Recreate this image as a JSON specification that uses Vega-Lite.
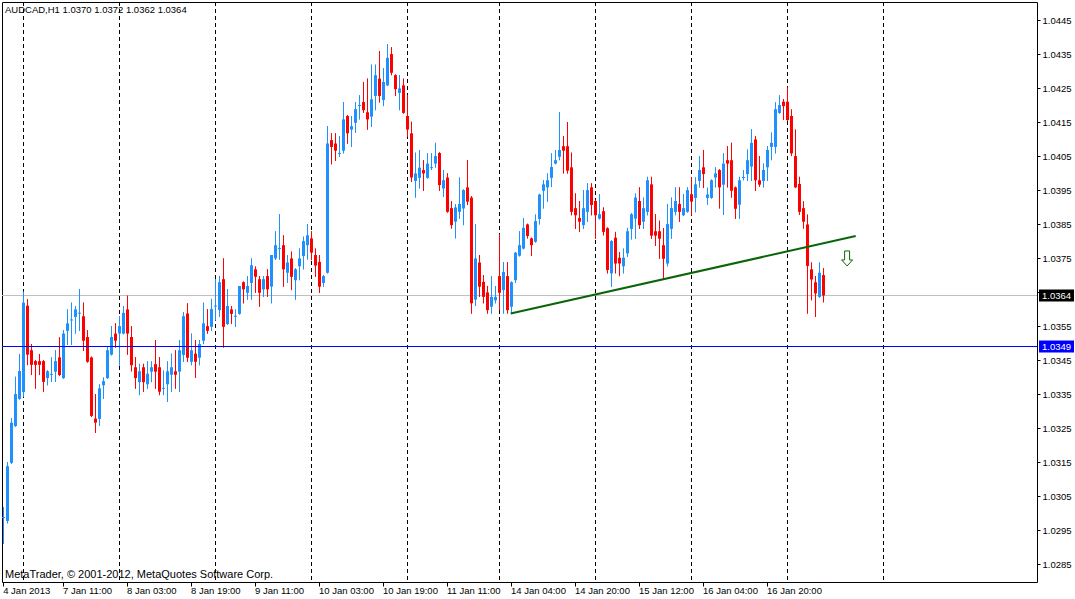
{
  "$schema": "https://vega.github.io/schema/vega-lite/v6.json",
  "width": 1035,
  "height": 580,
  "autosize": {"type": "none"},
  "padding": {"left": 2, "top": 2, "right": 38, "bottom": 17},
  "background": "white",
  "config": {
    "view": {"stroke": "black", "strokeWidth": 1},
    "font": "Liberation Sans",
    "axis": {"labelOverlap": false, "labelSeparation": 0, "labelBound": false, "labelFlush": false},
    "scale": {"continuousPadding": 0}
  },
  "datasets": {
    "candles": [
      {"i":0,"o":1.02987,"h":1.03017,"l":1.0291,"c":1.02987},
      {"i":1,"o":1.02977,"h":1.0315,"l":1.0297,"c":1.03138},
      {"i":2,"o":1.03148,"h":1.03279,"l":1.03145,"c":1.03266},
      {"i":3,"o":1.03256,"h":1.03401,"l":1.03254,"c":1.0335},
      {"i":4,"o":1.03336,"h":1.03468,"l":1.03334,"c":1.03418},
      {"i":5,"o":1.03356,"h":1.03651,"l":1.03342,"c":1.03619},
      {"i":6,"o":1.0361,"h":1.03629,"l":1.03435,"c":1.03466},
      {"i":7,"o":1.03479,"h":1.03497,"l":1.03406,"c":1.03436},
      {"i":8,"o":1.03447,"h":1.0345,"l":1.03366,"c":1.03436},
      {"i":9,"o":1.03447,"h":1.03468,"l":1.03406,"c":1.03436},
      {"i":10,"o":1.03447,"h":1.0345,"l":1.03356,"c":1.03386},
      {"i":11,"o":1.03397,"h":1.0342,"l":1.03376,"c":1.03417},
      {"i":12,"o":1.03408,"h":1.03458,"l":1.03386,"c":1.03408},
      {"i":13,"o":1.03416,"h":1.03479,"l":1.03386,"c":1.03447},
      {"i":14,"o":1.03458,"h":1.03517,"l":1.03404,"c":1.03406},
      {"i":15,"o":1.03397,"h":1.03538,"l":1.03395,"c":1.03528},
      {"i":16,"o":1.03536,"h":1.03599,"l":1.03495,"c":1.03558},
      {"i":17,"o":1.03568,"h":1.03619,"l":1.03495,"c":1.03568},
      {"i":18,"o":1.03577,"h":1.03609,"l":1.03528,"c":1.03599},
      {"i":19,"o":1.03588,"h":1.03659,"l":1.03536,"c":1.03588},
      {"i":20,"o":1.03579,"h":1.03619,"l":1.03477,"c":1.03507},
      {"i":21,"o":1.03518,"h":1.03538,"l":1.03443,"c":1.03445},
      {"i":22,"o":1.03458,"h":1.0346,"l":1.03283,"c":1.03286},
      {"i":23,"o":1.03278,"h":1.0335,"l":1.03236,"c":1.03266},
      {"i":24,"o":1.03277,"h":1.03379,"l":1.03257,"c":1.03367},
      {"i":25,"o":1.03376,"h":1.03399,"l":1.03336,"c":1.03388},
      {"i":26,"o":1.03397,"h":1.03489,"l":1.03395,"c":1.03479},
      {"i":27,"o":1.03466,"h":1.0355,"l":1.03464,"c":1.03518},
      {"i":28,"o":1.03528,"h":1.03558,"l":1.03487,"c":1.03507},
      {"i":29,"o":1.03528,"h":1.03579,"l":1.03434,"c":1.0355},
      {"i":30,"o":1.03528,"h":1.03609,"l":1.03526,"c":1.03589},
      {"i":31,"o":1.03599,"h":1.0364,"l":1.03466,"c":1.03528},
      {"i":32,"o":1.03518,"h":1.0355,"l":1.03417,"c":1.03435},
      {"i":33,"o":1.03429,"h":1.03459,"l":1.03366,"c":1.03397},
      {"i":34,"o":1.03385,"h":1.03439,"l":1.03347,"c":1.03417},
      {"i":35,"o":1.03429,"h":1.03439,"l":1.03357,"c":1.03385},
      {"i":36,"o":1.03379,"h":1.03446,"l":1.03366,"c":1.0341},
      {"i":37,"o":1.03416,"h":1.03446,"l":1.03385,"c":1.03429},
      {"i":38,"o":1.03438,"h":1.03509,"l":1.03366,"c":1.03416},
      {"i":39,"o":1.03429,"h":1.03459,"l":1.03347,"c":1.03357},
      {"i":40,"o":1.03367,"h":1.03419,"l":1.03347,"c":1.03367},
      {"i":41,"o":1.03379,"h":1.03446,"l":1.03327,"c":1.03417},
      {"i":42,"o":1.03407,"h":1.03469,"l":1.03357,"c":1.03429},
      {"i":43,"o":1.03417,"h":1.03479,"l":1.03366,"c":1.03407},
      {"i":44,"o":1.03416,"h":1.03509,"l":1.03357,"c":1.03479},
      {"i":45,"o":1.03465,"h":1.03591,"l":1.03445,"c":1.03579},
      {"i":46,"o":1.03587,"h":1.03617,"l":1.03445,"c":1.03457},
      {"i":47,"o":1.03445,"h":1.03528,"l":1.03435,"c":1.03479},
      {"i":48,"o":1.03469,"h":1.03509,"l":1.03398,"c":1.03445},
      {"i":49,"o":1.03457,"h":1.03509,"l":1.03435,"c":1.03497},
      {"i":50,"o":1.03507,"h":1.03619,"l":1.03497,"c":1.03558},
      {"i":51,"o":1.0355,"h":1.036,"l":1.03528,"c":1.03536},
      {"i":52,"o":1.03548,"h":1.0363,"l":1.03536,"c":1.036},
      {"i":53,"o":1.03609,"h":1.03688,"l":1.03567,"c":1.03609},
      {"i":54,"o":1.03597,"h":1.03697,"l":1.03577,"c":1.03679},
      {"i":55,"o":1.03688,"h":1.03749,"l":1.03487,"c":1.03548},
      {"i":56,"o":1.03556,"h":1.03659,"l":1.03554,"c":1.03609},
      {"i":57,"o":1.03599,"h":1.03609,"l":1.03556,"c":1.03586},
      {"i":58,"o":1.03579,"h":1.03599,"l":1.03548,"c":1.03579},
      {"i":59,"o":1.03586,"h":1.03668,"l":1.03584,"c":1.03668},
      {"i":60,"o":1.03679,"h":1.03681,"l":1.03617,"c":1.03658},
      {"i":61,"o":1.03648,"h":1.03697,"l":1.03628,"c":1.03668},
      {"i":62,"o":1.03677,"h":1.03749,"l":1.03628,"c":1.03729},
      {"i":63,"o":1.03717,"h":1.03725,"l":1.03648,"c":1.03695},
      {"i":64,"o":1.03688,"h":1.03697,"l":1.03607,"c":1.03648},
      {"i":65,"o":1.03658,"h":1.03697,"l":1.03636,"c":1.03688},
      {"i":66,"o":1.03697,"h":1.03717,"l":1.03636,"c":1.03658},
      {"i":67,"o":1.03666,"h":1.03759,"l":1.03617,"c":1.03759},
      {"i":68,"o":1.03749,"h":1.03829,"l":1.03745,"c":1.03788},
      {"i":69,"o":1.03778,"h":1.03879,"l":1.03746,"c":1.03778},
      {"i":70,"o":1.03788,"h":1.03817,"l":1.03666,"c":1.03717},
      {"i":71,"o":1.03707,"h":1.03759,"l":1.03677,"c":1.03737},
      {"i":72,"o":1.03749,"h":1.03769,"l":1.03656,"c":1.03695},
      {"i":73,"o":1.03685,"h":1.0372,"l":1.03628,"c":1.03717},
      {"i":74,"o":1.03726,"h":1.03778,"l":1.03685,"c":1.03749},
      {"i":75,"o":1.03756,"h":1.03813,"l":1.03717,"c":1.038},
      {"i":76,"o":1.03788,"h":1.0385,"l":1.03746,"c":1.03817},
      {"i":77,"o":1.03808,"h":1.03829,"l":1.03744,"c":1.03766},
      {"i":78,"o":1.03759,"h":1.03778,"l":1.03695,"c":1.03728},
      {"i":79,"o":1.03739,"h":1.03759,"l":1.03648,"c":1.03666},
      {"i":80,"o":1.03677,"h":1.037,"l":1.03666,"c":1.03697},
      {"i":81,"o":1.03707,"h":1.04138,"l":1.03705,"c":1.04087},
      {"i":82,"o":1.04097,"h":1.04117,"l":1.04026,"c":1.04077},
      {"i":83,"o":1.04087,"h":1.04117,"l":1.04036,"c":1.04066},
      {"i":84,"o":1.04058,"h":1.04109,"l":1.04048,"c":1.04058},
      {"i":85,"o":1.04066,"h":1.04209,"l":1.04058,"c":1.04158},
      {"i":86,"o":1.04168,"h":1.0417,"l":1.04087,"c":1.04117},
      {"i":87,"o":1.04128,"h":1.04168,"l":1.04077,"c":1.04138},
      {"i":88,"o":1.04148,"h":1.04209,"l":1.04118,"c":1.04188},
      {"i":89,"o":1.04199,"h":1.04229,"l":1.04158,"c":1.04199},
      {"i":90,"o":1.04209,"h":1.04268,"l":1.04177,"c":1.04185},
      {"i":91,"o":1.04179,"h":1.04278,"l":1.04128,"c":1.04158},
      {"i":92,"o":1.04166,"h":1.04319,"l":1.04136,"c":1.04217},
      {"i":93,"o":1.04227,"h":1.04319,"l":1.04185,"c":1.04288},
      {"i":94,"o":1.04278,"h":1.04359,"l":1.04208,"c":1.04227},
      {"i":95,"o":1.04215,"h":1.04309,"l":1.04197,"c":1.04268},
      {"i":96,"o":1.04258,"h":1.04379,"l":1.04256,"c":1.04339},
      {"i":97,"o":1.0435,"h":1.0437,"l":1.04288,"c":1.04295},
      {"i":98,"o":1.04288,"h":1.0429,"l":1.04227,"c":1.04247},
      {"i":99,"o":1.04236,"h":1.04288,"l":1.04185,"c":1.04249},
      {"i":100,"o":1.04258,"h":1.04278,"l":1.04175,"c":1.04177},
      {"i":101,"o":1.04168,"h":1.04229,"l":1.04107,"c":1.04128},
      {"i":102,"o":1.04117,"h":1.04151,"l":1.03974,"c":1.03987},
      {"i":103,"o":1.03977,"h":1.0406,"l":1.03928,"c":1.03999},
      {"i":104,"o":1.03986,"h":1.04068,"l":1.03955,"c":1.04016},
      {"i":105,"o":1.04009,"h":1.04038,"l":1.03948,"c":1.03999},
      {"i":106,"o":1.03986,"h":1.04058,"l":1.03984,"c":1.04028},
      {"i":107,"o":1.04016,"h":1.04058,"l":1.04009,"c":1.04016},
      {"i":108,"o":1.04028,"h":1.04089,"l":1.04016,"c":1.0405},
      {"i":109,"o":1.04059,"h":1.04061,"l":1.03948,"c":1.03965},
      {"i":110,"o":1.03955,"h":1.04009,"l":1.0393,"c":1.03979},
      {"i":111,"o":1.03987,"h":1.03999,"l":1.03884,"c":1.03886},
      {"i":112,"o":1.03897,"h":1.03917,"l":1.03837,"c":1.03847},
      {"i":113,"o":1.03857,"h":1.03909,"l":1.03808,"c":1.03899},
      {"i":114,"o":1.03886,"h":1.03987,"l":1.03866,"c":1.03909},
      {"i":115,"o":1.03896,"h":1.03952,"l":1.03847,"c":1.0395},
      {"i":116,"o":1.03958,"h":1.04038,"l":1.03906,"c":1.03916},
      {"i":117,"o":1.03928,"h":1.03932,"l":1.03587,"c":1.03617},
      {"i":118,"o":1.03628,"h":1.0385,"l":1.03609,"c":1.03749},
      {"i":119,"o":1.03737,"h":1.03759,"l":1.03636,"c":1.03666},
      {"i":120,"o":1.0368,"h":1.037,"l":1.03617,"c":1.03636},
      {"i":121,"o":1.03649,"h":1.03668,"l":1.03587,"c":1.03597},
      {"i":122,"o":1.03607,"h":1.03697,"l":1.03587,"c":1.03636},
      {"i":123,"o":1.03626,"h":1.03668,"l":1.03617,"c":1.03636},
      {"i":124,"o":1.03697,"h":1.0382,"l":1.03597,"c":1.03648},
      {"i":125,"o":1.03656,"h":1.03738,"l":1.03587,"c":1.03709},
      {"i":126,"o":1.03697,"h":1.03738,"l":1.03587,"c":1.03597},
      {"i":127,"o":1.03607,"h":1.03681,"l":1.03587,"c":1.03679},
      {"i":128,"o":1.03685,"h":1.03768,"l":1.03677,"c":1.03766},
      {"i":129,"o":1.03757,"h":1.03829,"l":1.03755,"c":1.03788},
      {"i":130,"o":1.03778,"h":1.03868,"l":1.03776,"c":1.03839},
      {"i":131,"o":1.03849,"h":1.03851,"l":1.03808,"c":1.03815},
      {"i":132,"o":1.03808,"h":1.0381,"l":1.03757,"c":1.03788},
      {"i":133,"o":1.03798,"h":1.03878,"l":1.03796,"c":1.03859},
      {"i":134,"o":1.03865,"h":1.03939,"l":1.03849,"c":1.03937},
      {"i":135,"o":1.03948,"h":1.03979,"l":1.03896,"c":1.03967},
      {"i":136,"o":1.03958,"h":1.03999,"l":1.03916,"c":1.03979},
      {"i":137,"o":1.03986,"h":1.04058,"l":1.03959,"c":1.04018},
      {"i":138,"o":1.04028,"h":1.04068,"l":1.04026,"c":1.04038},
      {"i":139,"o":1.04048,"h":1.04179,"l":1.04038,"c":1.04068},
      {"i":140,"o":1.04079,"h":1.04109,"l":1.03999,"c":1.04066},
      {"i":141,"o":1.04079,"h":1.0415,"l":1.03999,"c":1.04007},
      {"i":142,"o":1.04017,"h":1.0406,"l":1.03876,"c":1.03886},
      {"i":143,"o":1.03897,"h":1.0394,"l":1.03836,"c":1.03876},
      {"i":144,"o":1.03868,"h":1.03918,"l":1.03827,"c":1.03857},
      {"i":145,"o":1.03847,"h":1.0395,"l":1.03836,"c":1.03897},
      {"i":146,"o":1.03886,"h":1.0397,"l":1.03857,"c":1.0395},
      {"i":147,"o":1.03958,"h":1.0397,"l":1.03876,"c":1.03906},
      {"i":148,"o":1.03918,"h":1.0392,"l":1.03807,"c":1.03876},
      {"i":149,"o":1.03866,"h":1.03938,"l":1.03864,"c":1.03879},
      {"i":150,"o":1.03888,"h":1.03899,"l":1.03817,"c":1.03827},
      {"i":151,"o":1.03838,"h":1.0384,"l":1.03705,"c":1.03715},
      {"i":152,"o":1.03705,"h":1.03802,"l":1.03666,"c":1.038},
      {"i":153,"o":1.0381,"h":1.03827,"l":1.03705,"c":1.03734},
      {"i":154,"o":1.03751,"h":1.03768,"l":1.03697,"c":1.03734},
      {"i":155,"o":1.03726,"h":1.03778,"l":1.03705,"c":1.03751},
      {"i":156,"o":1.03764,"h":1.03839,"l":1.03754,"c":1.03829},
      {"i":157,"o":1.03836,"h":1.03882,"l":1.03805,"c":1.03879},
      {"i":158,"o":1.03866,"h":1.0394,"l":1.03807,"c":1.03928},
      {"i":159,"o":1.03918,"h":1.03958,"l":1.03836,"c":1.03847},
      {"i":160,"o":1.03857,"h":1.03928,"l":1.03836,"c":1.03897},
      {"i":161,"o":1.03886,"h":1.03989,"l":1.03876,"c":1.03979},
      {"i":162,"o":1.03967,"h":1.03989,"l":1.03807,"c":1.03816},
      {"i":163,"o":1.03829,"h":1.03879,"l":1.03786,"c":1.03816},
      {"i":164,"o":1.03829,"h":1.0386,"l":1.03748,"c":1.03807},
      {"i":165,"o":1.03788,"h":1.03838,"l":1.03688,"c":1.03748},
      {"i":166,"o":1.03734,"h":1.03909,"l":1.03726,"c":1.0385},
      {"i":167,"o":1.03836,"h":1.03928,"l":1.03807,"c":1.03897},
      {"i":168,"o":1.03886,"h":1.03958,"l":1.03876,"c":1.03918},
      {"i":169,"o":1.03909,"h":1.03958,"l":1.03857,"c":1.03886},
      {"i":170,"o":1.03876,"h":1.03938,"l":1.03874,"c":1.03897},
      {"i":171,"o":1.03886,"h":1.03958,"l":1.03884,"c":1.0395},
      {"i":172,"o":1.03938,"h":1.03987,"l":1.03876,"c":1.03916},
      {"i":173,"o":1.03927,"h":1.03987,"l":1.03885,"c":1.03967},
      {"i":174,"o":1.03977,"h":1.0405,"l":1.03958,"c":1.04009},
      {"i":175,"o":1.04017,"h":1.04068,"l":1.03956,"c":1.03997},
      {"i":176,"o":1.03927,"h":1.03957,"l":1.03907,"c":1.03937},
      {"i":177,"o":1.03927,"h":1.03981,"l":1.03925,"c":1.03979},
      {"i":178,"o":1.03987,"h":1.04017,"l":1.03958,"c":1.03999},
      {"i":179,"o":1.04009,"h":1.04011,"l":1.03896,"c":1.03958},
      {"i":180,"o":1.03966,"h":1.04058,"l":1.03877,"c":1.04028},
      {"i":181,"o":1.04038,"h":1.04079,"l":1.03958,"c":1.04028},
      {"i":182,"o":1.04038,"h":1.04089,"l":1.03928,"c":1.03948},
      {"i":183,"o":1.03958,"h":1.0396,"l":1.03865,"c":1.03895},
      {"i":184,"o":1.03907,"h":1.03989,"l":1.03865,"c":1.03979},
      {"i":185,"o":1.03987,"h":1.04009,"l":1.03979,"c":1.03987},
      {"i":186,"o":1.03997,"h":1.04069,"l":1.03977,"c":1.04038},
      {"i":187,"o":1.04019,"h":1.04129,"l":1.03977,"c":1.04089},
      {"i":188,"o":1.04099,"h":1.04109,"l":1.03948,"c":1.03979},
      {"i":189,"o":1.03979,"h":1.0405,"l":1.0396,"c":1.03966},
      {"i":190,"o":1.03977,"h":1.04028,"l":1.03958,"c":1.04009},
      {"i":191,"o":1.04017,"h":1.04079,"l":1.03977,"c":1.04068},
      {"i":192,"o":1.04077,"h":1.04119,"l":1.04038,"c":1.04089},
      {"i":193,"o":1.04077,"h":1.04208,"l":1.04058,"c":1.04188},
      {"i":194,"o":1.04177,"h":1.04229,"l":1.04175,"c":1.042},
      {"i":195,"o":1.0421,"h":1.04218,"l":1.04156,"c":1.04197},
      {"i":196,"o":1.0421,"h":1.04252,"l":1.04154,"c":1.04156},
      {"i":197,"o":1.04168,"h":1.04187,"l":1.0405,"c":1.04058},
      {"i":198,"o":1.0405,"h":1.04128,"l":1.03956,"c":1.03958},
      {"i":199,"o":1.03968,"h":1.03989,"l":1.03877,"c":1.03886},
      {"i":200,"o":1.03897,"h":1.03917,"l":1.03837,"c":1.03857},
      {"i":201,"o":1.03849,"h":1.03878,"l":1.03587,"c":1.03727},
      {"i":202,"o":1.03717,"h":1.03737,"l":1.03626,"c":1.03687},
      {"i":203,"o":1.03679,"h":1.03697,"l":1.03577,"c":1.03646},
      {"i":204,"o":1.03636,"h":1.03737,"l":1.03634,"c":1.03707},
      {"i":205,"o":1.037,"h":1.0372,"l":1.0362,"c":1.0364}
    ],
    "separators": [
      {"i":5},{"i":29},{"i":53},{"i":77},{"i":101},
      {"i":124},{"i":148},{"i":172},{"i":196},{"i":220}
    ],
    "levels": [
      {"p":1.0364,"label":"1.0364","kind":"bid"},
      {"p":1.0349,"label":"1.0349","kind":"hline"}
    ],
    "trend": [
      {"i":126.8,"p":1.03587},
      {"i":213.05,"p":1.03815}
    ],
    "signal": [
      {"i":210.9,"p":1.03749}
    ],
    "notes": [
      {"txt":"AUDCAD,H1  1.0370 1.0372 1.0362 1.0364","where":"top"},
      {"txt":"MetaTrader, © 2001-2012, MetaQuotes Software Corp.","where":"bottom"}
    ]
  },
  "layer": [
    {
      "data": {"name": "separators"},
      "mark": {"type": "rule", "color": "black", "strokeWidth": 1, "strokeDash": [4, 3]},
      "encoding": {
        "x": {
          "field": "i", "type": "quantitative", "title": null,
          "scale": {"domain": [-0.375, 258.375], "nice": false, "zero": false, "padding": 0},
          "axis": {
            "orient": "bottom",
            "values": [-0.2, 14.75, 30.75, 46.75, 62.75, 78.75, 94.75, 110.75, 126.75, 142.75, 158.75, 174.75, 190.75],
            "tickCount": 40,
            "labelExpr": "['4 Jan 2013','7 Jan 11:00','8 Jan 03:00','8 Jan 19:00','9 Jan 11:00','10 Jan 03:00','10 Jan 19:00','11 Jan 11:00','14 Jan 04:00','14 Jan 20:00','15 Jan 12:00','16 Jan 04:00','16 Jan 20:00'][round((datum.value + 1.25) / 16)]",
            "domain": false,
            "grid": false,
            "ticks": true,
            "tickSize": 4,
            "tickColor": "black",
            "labelAlign": "left",
            "labelBaseline": "top",
            "labelPadding": -1,
            "labelDx": 2,
            "labelFont": "Liberation Sans",
            "labelFontSize": 9.5,
            "labelColor": "black",
            "labelOverlap": false
          }
        }
      }
    },
    {
      "data": {"name": "candles"},
      "mark": {"type": "rule", "strokeWidth": 1},
      "encoding": {
        "x": {"field": "i", "type": "quantitative", "title": null},
        "y": {
          "field": "l", "type": "quantitative", "title": null,
          "scale": {"domain": [1.0279735, 1.0450324], "nice": false, "zero": false, "padding": 0},
          "axis": {
            "orient": "right",
            "values": [1.0285, 1.0295, 1.0305, 1.0315, 1.0325, 1.0335, 1.0345, 1.0355, 1.0365, 1.0375, 1.0385, 1.0395, 1.0405, 1.0415, 1.0425, 1.0435, 1.0445],
            "tickCount": 40,
            "format": ".4f",
            "domain": false,
            "grid": false,
            "ticks": true,
            "tickSize": 3,
            "tickColor": "black",
            "labelPadding": 2,
            "labelAlign": "left",
            "labelBaseline": "middle",
            "labelFont": "Liberation Sans",
            "labelFontSize": 9.5,
            "labelColor": "black",
            "labelOverlap": false
          }
        },
        "y2": {"field": "h"},
        "color": {"condition": {"test": "datum.c >= datum.o", "value": "#1E90FF"}, "value": "#FF0000"}
      }
    },
    {
      "data": {"name": "levels"},
      "transform": [{"filter": "datum.kind == 'bid'"}],
      "mark": {"type": "rule", "color": "#C0C0C0", "strokeWidth": 1},
      "encoding": {
        "y": {"field": "p", "type": "quantitative", "title": null}
      }
    },
    {
      "data": {"name": "candles"},
      "mark": {"type": "rule", "strokeWidth": 1},
      "encoding": {
        "x": {"field": "i", "type": "quantitative", "title": null},
        "y": {"field": "l", "type": "quantitative", "title": null},
        "y2": {"field": "h"},
        "color": {"condition": {"test": "datum.c >= datum.o", "value": "#1E90FF"}, "value": "#FF0000"}
      }
    },
    {
      "data": {"name": "candles"},
      "mark": {"type": "bar", "width": 3, "opacity": 1},
      "encoding": {
        "x": {"field": "i", "type": "quantitative", "title": null},
        "y": {"field": "o", "type": "quantitative", "title": null},
        "y2": {"field": "c"},
        "color": {"condition": {"test": "datum.c >= datum.o", "value": "#1E90FF"}, "value": "#FF0000"}
      }
    },
    {
      "data": {"name": "candles"},
      "transform": [{"filter": "datum.o == datum.c"}],
      "mark": {"type": "tick", "orient": "horizontal", "size": 3, "thickness": 1, "opacity": 1},
      "encoding": {
        "x": {"field": "i", "type": "quantitative", "title": null},
        "y": {"field": "c", "type": "quantitative", "title": null},
        "color": {"value": "#1E90FF"}
      }
    },
    {
      "data": {"name": "levels"},
      "transform": [{"filter": "datum.kind == 'hline'"}],
      "mark": {"type": "rule", "color": "#0000FF", "strokeWidth": 1},
      "encoding": {
        "y": {"field": "p", "type": "quantitative", "title": null}
      }
    },
    {
      "data": {"name": "trend"},
      "mark": {"type": "line", "color": "#0A650A", "strokeWidth": 2},
      "encoding": {
        "x": {"field": "i", "type": "quantitative", "title": null},
        "y": {"field": "p", "type": "quantitative", "title": null}
      }
    },
    {
      "data": {"name": "signal"},
      "mark": {
        "type": "point",
        "shape": "M-0.33,-1 L0.33,-1 L0.33,0.2 L0.73,0.2 L0,1 L-0.73,0.2 L-0.33,0.2 Z",
        "size": 225,
        "filled": true,
        "fill": "white",
        "stroke": "#0A650A",
        "strokeWidth": 1,
        "opacity": 1
      },
      "encoding": {
        "x": {"field": "i", "type": "quantitative", "title": null},
        "y": {"field": "p", "type": "quantitative", "title": null}
      }
    },
    {
      "data": {"name": "levels"},
      "transform": [{"filter": "datum.kind == 'bid'"}],
      "mark": {"type": "rect", "width": 35, "height": 12, "color": "black", "opacity": 1, "clip": false},
      "encoding": {
        "x": {"datum": 263.25, "type": "quantitative"},
        "y": {"field": "p", "type": "quantitative", "title": null}
      }
    },
    {
      "data": {"name": "levels"},
      "transform": [{"filter": "datum.kind == 'hline'"}],
      "mark": {"type": "rect", "width": 35, "height": 12, "color": "#0000FF", "opacity": 1, "clip": false},
      "encoding": {
        "x": {"datum": 263.25, "type": "quantitative"},
        "y": {"field": "p", "type": "quantitative", "title": null}
      }
    },
    {
      "data": {"name": "levels"},
      "mark": {"type": "text", "align": "left", "baseline": "middle", "color": "white", "font": "Liberation Sans", "fontSize": 9.5, "clip": false},
      "encoding": {
        "x": {"datum": 259.625, "type": "quantitative"},
        "y": {"field": "p", "type": "quantitative", "title": null},
        "text": {"field": "label"}
      }
    },
    {
      "data": {"name": "notes"},
      "transform": [{"filter": "datum.where == 'top'"}],
      "mark": {"type": "text", "align": "left", "baseline": "middle", "color": "black", "font": "Liberation Sans", "fontSize": 9.5},
      "encoding": {
        "x": {"datum": 0.375, "type": "quantitative"},
        "y": {"datum": 1.0448, "type": "quantitative"},
        "text": {"field": "txt"}
      }
    },
    {
      "data": {"name": "notes"},
      "transform": [{"filter": "datum.where == 'bottom'"}],
      "mark": {"type": "text", "align": "left", "baseline": "middle", "color": "black", "font": "Liberation Sans", "fontSize": 11},
      "encoding": {
        "x": {"datum": 0.375, "type": "quantitative"},
        "y": {"datum": 1.02818, "type": "quantitative"},
        "text": {"field": "txt"}
      }
    }
  ]
}
